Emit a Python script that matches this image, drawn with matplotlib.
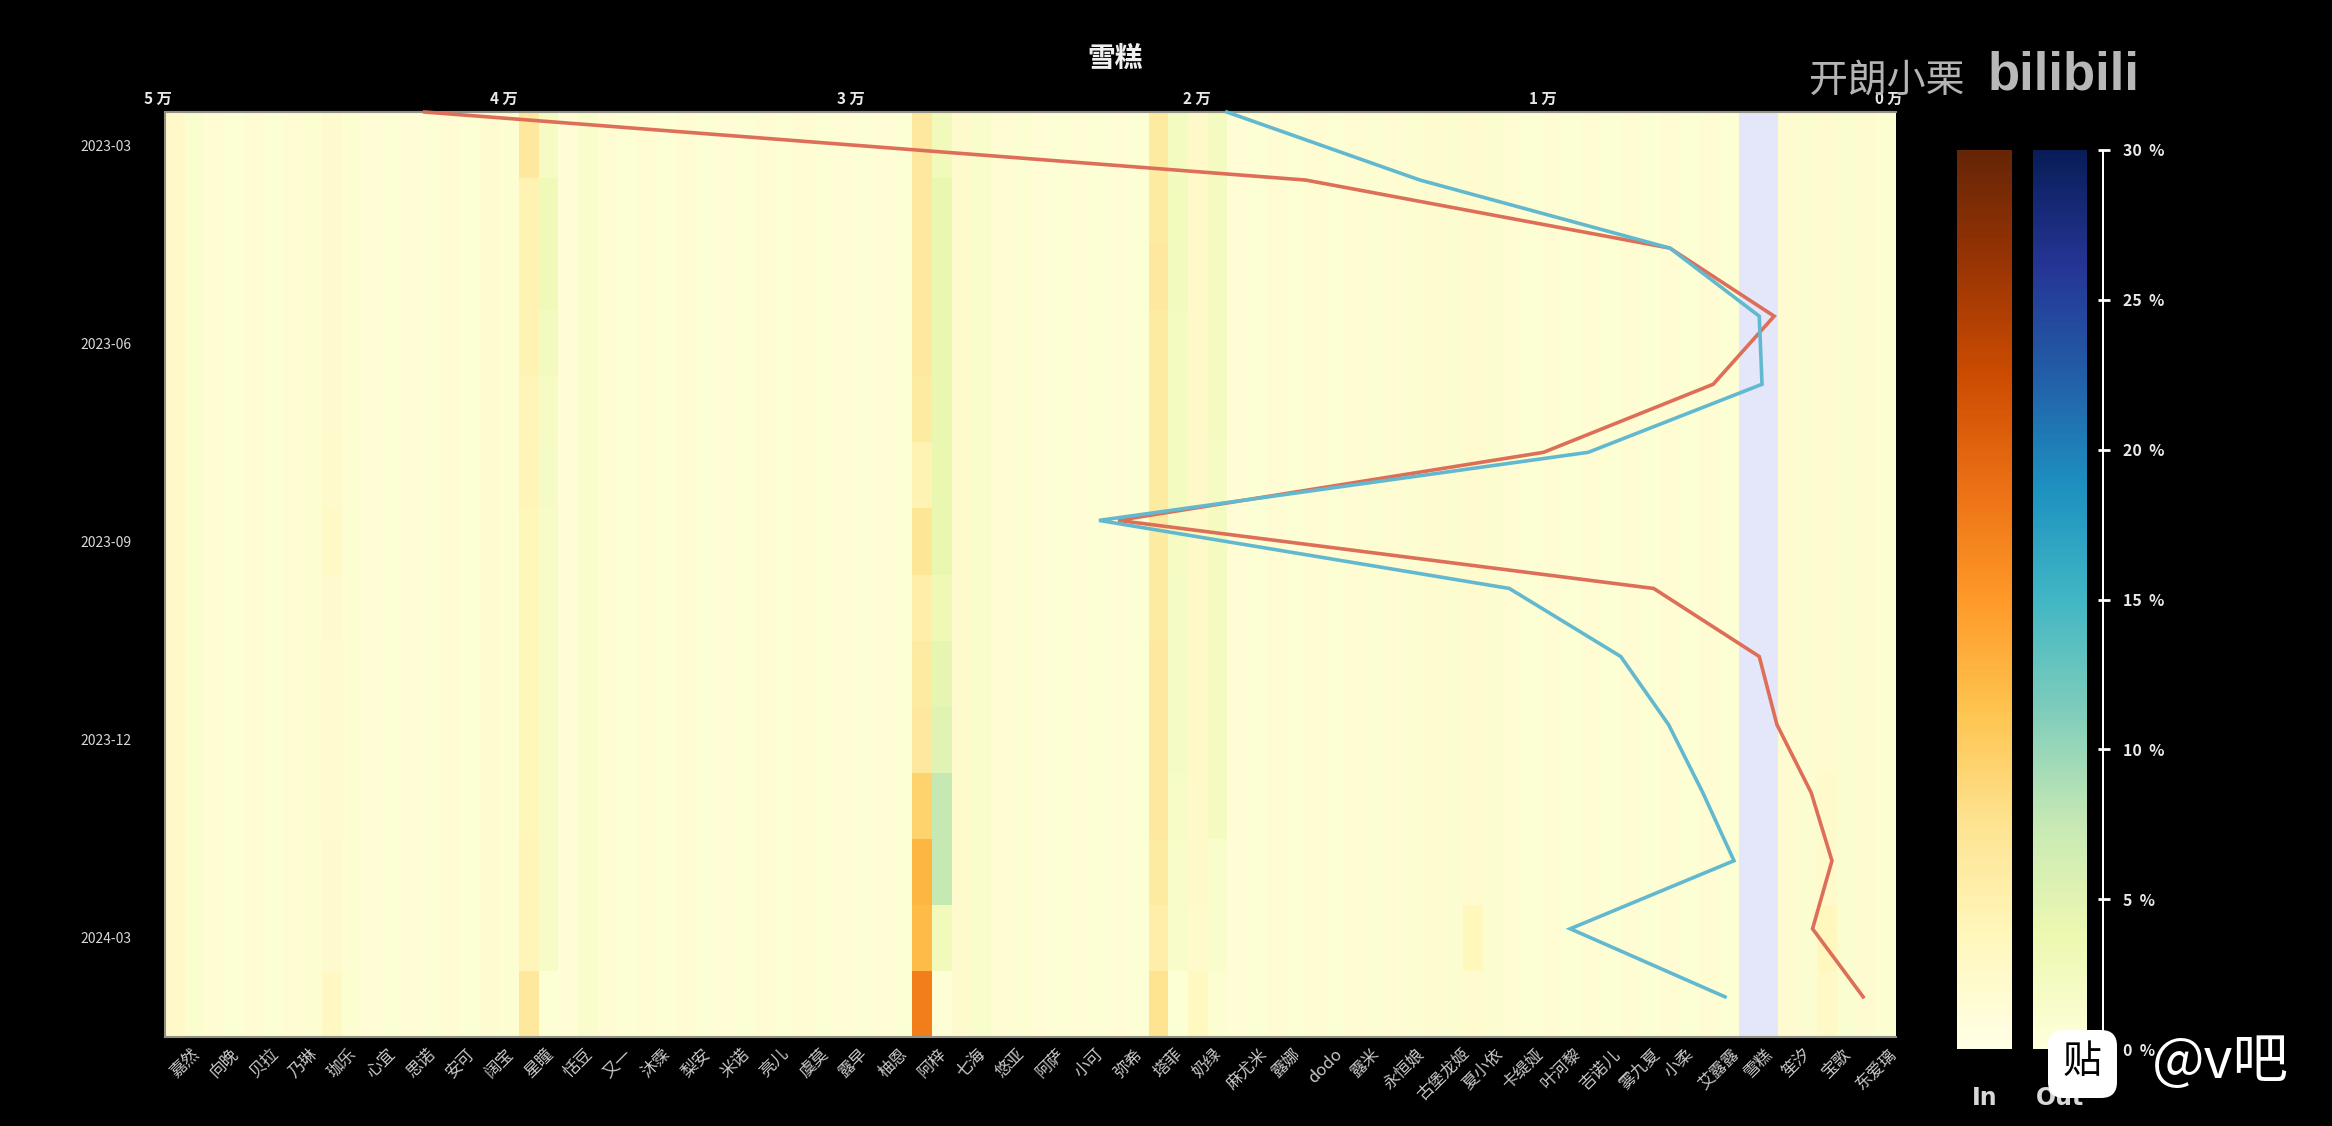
# -*- coding: utf-8 -*-
import numpy as np
import matplotlib
matplotlib.use("Agg")
from matplotlib import pyplot as plt
from matplotlib.patches import FancyBboxPatch
from matplotlib.transforms import ScaledTranslation

plt.rcParams['font.family'] = ['Noto Sans CJK SC', 'DejaVu Sans']

W, H = 2332, 1126

names = ['嘉然', '向晚', '贝拉', '乃琳', '珈乐', '心宜', '思诺', '安可', '阔宝', '星瞳', '恬豆',
         '又一', '沐霂', '梨安', '米诺', '亮儿', '虞莫', '露早', '柚恩', '阿梓', '七海', '悠亚',
         '阿萨', '小可', '弥希', '塔菲', '奶绿', '麻尤米', '露娜', 'dodo', '露米', '永恒娘',
         '古堡龙姬', '夏小依', '卡缇娅', '叶河黎', '吉诺儿', '雾九夏', '小柔', '艾露露', '雪糕',
         '笙汐', '宝歌', '东爱璃']
months = ['2023-03', '2023-04', '2023-05', '2023-06', '2023-07', '2023-08', '2023-09',
          '2023-10', '2023-11', '2023-12', '2024-01', '2024-02', '2024-03', '2024-04']

# share of viewers in %, one value per streamer, most columns barely change by month
in_base = [2.6, 1.8, 1.7, 1.7, 2.2, 1.5, 1.5, 1.8, 1.9, 4.0, 1.5, 1.6, 1.7, 1.7, 1.5, 1.7,
           1.7, 1.5, 1.5, 6.0, 2.3, 1.7, 1.5, 1.5, 1.5, 5.5, 2.5, 1.5, 1.7, 1.8, 1.8, 1.8,
           1.9, 2.0, 1.7, 1.6, 1.6, 1.7, 1.6, 1.7, np.nan, 1.9, 2.1, 1.9]
out_base = [1.1, 0.7, 0.7, 0.8, 0.8, 0.6, 0.6, 0.7, 0.8, 3.0, 1.3, 0.6, 0.7, 0.7, 0.6, 0.7,
            0.6, 0.6, 0.6, 4.0, 1.2, 0.8, 0.6, 0.6, 0.6, 2.6, 2.4, 0.6, 0.7, 0.7, 0.8, 0.8,
            0.9, 0.9, 0.7, 0.6, 0.6, 0.7, 0.6, 0.7, np.nan, 0.9, 1.0, 0.8]

# columns that move over time
azi_in = [6.5, 6.5, 6.5, 6.5, 6, 4.5, 7, 5.5, 6, 6.5, 9.5, 12.5, 12, 17.5]
azi_out = [3, 4, 4, 4, 4, 4, 4, 3.5, 4.5, 5, 7.5, 7.5, 3, 0.4]
xingtong_in = [6.5, 4.5, 4.5, 4.5, 4.2, 4.2, 4, 4, 4, 4, 4, 4.2, 4.2, 6.5]
xingtong_out = [2.2, 3.2, 3.2, 2.5, 2.2, 2, 1.8, 1.8, 1.8, 1.8, 1.8, 1.8, 1.8, 0.7]
tafei_in = [6, 6, 6.5, 6, 6, 6, 6, 6, 6.5, 6.5, 6.5, 6, 5.5, 7.5]
tafei_out = [2.4, 2.8, 2.6, 2.4, 2.3, 2.3, 2.2, 2.1, 2.1, 2.1, 1.8, 1.6, 1.6, 0.7]
naitv_in = [2.6, 2.6, 2.6, 2.6, 2.6, 2.6, 2.8, 2.8, 2.8, 2.8, 2.6, 2.6, 2.4, 3.4]
naitv_out = [2.4, 2.4, 2.4, 2.4, 2.4, 2.2, 2.4, 2.4, 2.4, 2.4, 2.4, 1.4, 1.2, 0.8]
zhuile_in = [2.2, 2.2, 2.2, 2.2, 2.2, 2.4, 3, 2.2, 2, 2, 2, 2.2, 2.2, 3.2]
xiaoyi_in = [2, 2, 2, 2, 2, 2, 2, 2, 2, 2, 2, 2, 3.8, 2]
baoge_in = [2, 2, 2, 2, 2, 2, 2, 2, 2.1, 2.1, 2.4, 2.4, 3.6, 2.8]

# audience in 万, the line runs from top to bottom
line_in = [4.25, 1.705, 0.653, 0.352, 0.528, 1.018, 2.247, 0.70, 0.395, 0.344, 0.245, 0.185, 0.241, 0.095]
line_out = [1.933, 1.375, 0.653, 0.395, 0.387, 0.889, 2.302, 1.117, 0.795, 0.657, 0.558, 0.468, 0.941, 0.494]

y_ticks = ['2023-03', '2023-06', '2023-09', '2023-12', '2024-03']
top_ticks = [5, 4, 3, 2, 1, 0]
scale_ticks = [0, 5, 10, 15, 20, 25, 30]

heat_in = np.tile(np.array(in_base), (len(months), 1))
heat_out = np.tile(np.array(out_base), (len(months), 1))
heat_in[:, names.index('阿梓')] = azi_in
heat_out[:, names.index('阿梓')] = azi_out
heat_in[:, names.index('星瞳')] = xingtong_in
heat_out[:, names.index('星瞳')] = xingtong_out
heat_in[:, names.index('塔菲')] = tafei_in
heat_out[:, names.index('塔菲')] = tafei_out
heat_in[:, names.index('奶绿')] = naitv_in
heat_out[:, names.index('奶绿')] = naitv_out
heat_in[:, names.index('珈乐')] = zhuile_in
heat_in[:, names.index('夏小依')] = xiaoyi_in
heat_in[:, names.index('宝歌')] = baoge_in


def box(x0, y0, x1, y1):
    # pixel box of the picture (y down) to figure fractions
    return [x0 / W, 1 - y1 / H, (x1 - x0) / W, (y1 - y0) / H]


fig = plt.figure(figsize=(W / 100, H / 100), dpi=100, facecolor='black')
ax_pos = box(165, 112, 1896, 1037)

# heatmap, every streamer cell split in an In half and an Out half
ax = fig.add_axes(ax_pos)
ax.set_facecolor('#e4e6fa')
n_col, n_row = len(names), len(months)
for i in range(n_col):
    ax.pcolormesh([i, i + 0.5], np.arange(n_row + 1), heat_in[:, [i]], cmap='YlOrBr', vmin=0, vmax=30)
    ax.pcolormesh([i + 0.5, i + 1], np.arange(n_row + 1), heat_out[:, [i]], cmap='YlGnBu', vmin=0, vmax=30)
ax.set_xlim(0, n_col)
ax.set_ylim(n_row, 0)
ax.set_xticks(np.arange(n_col) + 0.5)
ax.set_xticklabels(names, rotation=45, fontsize=12, fontweight='medium', color='#c8c8c8')
ax.set_yticks([months.index(m) + 0.5 for m in y_ticks])
ax.set_yticklabels(y_ticks, fontsize=10, fontweight='medium', color='#d8d8d8')
ax.tick_params(axis='x', length=0, pad=6)
ax.tick_params(axis='y', length=0, pad=24)
for s in ['left', 'top', 'bottom']:
    ax.spines[s].set_color('#909088')
    ax.spines[s].set_linewidth(1.5)
ax.spines['right'].set_visible(False)

# lines on their own axes, x in 万 and reversed
ax2 = fig.add_axes(ax_pos, facecolor='none')
ax2.plot(line_in, np.arange(n_row), color='#dd6e58', lw=2.6, clip_on=False, solid_joinstyle='miter')
ax2.plot(line_out, np.arange(n_row), color='#62b9cf', lw=2.6, clip_on=False, solid_joinstyle='miter')
ax2.set_xlim(5, 0)
ax2.set_ylim(13.59, 0)
ax2.set_yticks([])
ax2.xaxis.tick_top()
ax2.set_xticks(top_ticks)
ax2.set_xticklabels(['%d 万' % t for t in top_ticks], fontsize=11, fontweight='bold', color='#e8e8e8')
ax2.tick_params(axis='x', length=0, pad=4)
shift = ScaledTranslation(-7 / 100, 0, fig.dpi_scale_trans)
for lab in ax2.get_xticklabels():
    lab.set_transform(lab.get_transform() + shift)
for s in ax2.spines.values():
    s.set_visible(False)

fig.text(1115 / W, 1 - 59 / H, '雪糕', color='#f0f0f0', fontsize=20, fontweight='bold', ha='center', va='center')

# the two colour bars and the scale next to them
for cmap_name, x0, x1, lab in [('YlOrBr', 1957, 2012, 'In'), ('YlGnBu', 2033, 2087, 'Out')]:
    cax = fig.add_axes(box(x0, 150, x1, 1049))
    sm = plt.cm.ScalarMappable(norm=plt.Normalize(0, 30), cmap=cmap_name)
    cb = fig.colorbar(sm, cax=cax)
    cb.set_ticks([])
    cb.outline.set_visible(False)
    fig.text((x0 + x1) / 2 / W, 1 - 1098 / H, lab, color='#d8d8d8', fontsize=17, fontweight='bold',
             ha='center', va='center', family=['DejaVu Sans'])

sax = fig.add_axes(box(2102, 150, 2104, 1049), facecolor='white')
sax.set_xticks([])
sax.set_ylim(0, 30)
sax.yaxis.tick_right()
sax.set_yticks(scale_ticks)
sax.set_yticklabels(['%d  %%' % t for t in scale_ticks], fontsize=11.5, fontweight='bold', color='#e8e8e8')
sax.tick_params(axis='y', length=8, width=2, direction='inout', color='white', pad=10)
for s in sax.spines.values():
    s.set_visible(False)

# watermarks of the video
fig.text(1887 / W, 1 - 81 / H, '开朗小栗', color='#b4b4b4', fontsize=28, ha='center', va='center')
fig.text(2064 / W, 1 - 76 / H, 'bilibili', color='#b8b8b8', fontsize=38, fontweight='bold', ha='center', va='center',
         family=['Liberation Sans', 'DejaVu Sans'])
fig.patches.append(FancyBboxPatch((2048, H - 1098), 69, 68, boxstyle='round,pad=0,rounding_size=16',
                                  facecolor='white', edgecolor='none', transform=None, zorder=5))
fig.text(2082 / W, 1 - 1062 / H, '贴', color='black', fontsize=28, ha='center', va='center', zorder=6)
fig.text(2220 / W, 1 - 1062 / H, '@v吧', color='white', fontsize=40, ha='center', va='center', zorder=6)

fig.savefig('out.png', dpi=100, facecolor='black')
